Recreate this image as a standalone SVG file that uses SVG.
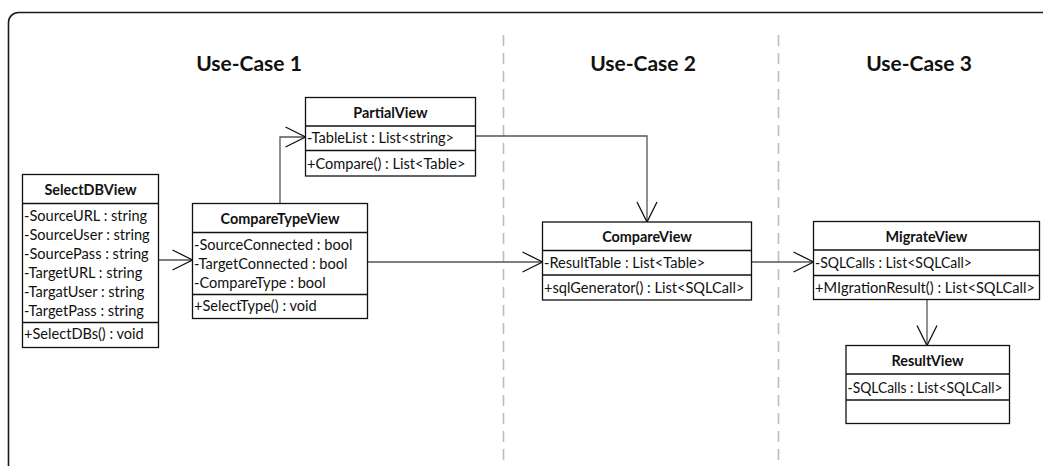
<svg xmlns="http://www.w3.org/2000/svg" width="1043" height="466" viewBox="0 0 1043 466">
  <style>
    .frame { fill: #fff; stroke: #1a1a1a; stroke-width: 1.6; }
    .lane { stroke: #bdbdbd; stroke-width: 1.6; stroke-dasharray: 11 7; fill: none; }
    .title { font-family: Lato, "Open Sans", sans-serif; font-weight: bold; font-size: 21px; fill: #111; text-anchor: middle; }
    .box { fill: #fff; stroke: #111; stroke-width: 1.3; }
    .sep { stroke: #111; stroke-width: 1.3; }
    .name { font-family: Lato, "Open Sans", sans-serif; font-weight: bold; font-size: 14.4px; fill: #111; text-anchor: middle; }
    .mem { font-family: Lato, "Open Sans", sans-serif; font-size: 14.6px; fill: #111; }
    .conn { stroke: #555; stroke-width: 1.3; fill: none; }
    .head { stroke: #111; stroke-width: 1.3; fill: none; }
  </style>
  <defs>
    <marker id="open" markerUnits="userSpaceOnUse" markerWidth="24" markerHeight="24" viewBox="-21 -12 24 24" refX="0" refY="0" orient="auto">
      <path class="head" d="M-20,-10 L0,0 L-20,10"/>
    </marker>
  </defs>

  <!-- outer frame (runs past the right and bottom edges) -->
  <rect class="frame" x="8.5" y="12.5" width="1100" height="500" rx="10" ry="10"/>

  <!-- swim-lane separators -->
  <line class="lane" x1="503.5" y1="35" x2="503.5" y2="466"/>
  <line class="lane" x1="778.5" y1="35" x2="778.5" y2="466"/>

  <text class="title" x="249" y="70.5">Use-Case 1</text>
  <text class="title" x="643" y="70.5">Use-Case 2</text>
  <text class="title" x="919" y="70.5">Use-Case 3</text>

  <!-- associations -->
  <g id="connectors">
    <path class="conn" d="M158.5,260 H192.5" marker-end="url(#open)"/>
    <path class="conn" d="M280,203.5 V137 H305.5" marker-end="url(#open)"/>
    <path class="conn" d="M475.5,136 H647 V222" marker-end="url(#open)"/>
    <path class="conn" d="M367.5,262 H542.5" marker-end="url(#open)"/>
    <path class="conn" d="M751.5,262 H813.5" marker-end="url(#open)"/>
    <path class="conn" d="M927,299.5 V345.5" marker-end="url(#open)"/>
  </g>

  <g id="SelectDBView">
    <rect class="box" x="22.5" y="174.5" width="136" height="173"/>
    <line class="sep" x1="22.5" y1="203.5" x2="158.5" y2="203.5"/>
    <line class="sep" x1="22.5" y1="322.5" x2="158.5" y2="322.5"/>
    <text class="name" x="90.5" y="194.5">SelectDBView</text>
    <text class="mem" x="24" y="220.5">-SourceURL : string</text>
    <text class="mem" x="24" y="239.5">-SourceUser : string</text>
    <text class="mem" x="24" y="258.5">-SourcePass : string</text>
    <text class="mem" x="24" y="277.5">-TargetURL : string</text>
    <text class="mem" x="24" y="296.5">-TargatUser : string</text>
    <text class="mem" x="24" y="315.5">-TargetPass : string</text>
    <text class="mem" x="24" y="339">+SelectDBs() : void</text>
  </g>

  <g id="CompareTypeView">
    <rect class="box" x="192.5" y="203.5" width="175" height="115"/>
    <line class="sep" x1="192.5" y1="232.5" x2="367.5" y2="232.5"/>
    <line class="sep" x1="192.5" y1="294.5" x2="367.5" y2="294.5"/>
    <text class="name" x="280" y="223.5">CompareTypeView</text>
    <text class="mem" x="194" y="250">-SourceConnected : bool</text>
    <text class="mem" x="194" y="268.5">-TargetConnected : bool</text>
    <text class="mem" x="194" y="287.5">-CompareType : bool</text>
    <text class="mem" x="194" y="311">+SelectType() : void</text>
  </g>

  <g id="PartialView">
    <rect class="box" x="305.5" y="97.5" width="170" height="78.5"/>
    <line class="sep" x1="305.5" y1="126" x2="475.5" y2="126"/>
    <line class="sep" x1="305.5" y1="150.5" x2="475.5" y2="150.5"/>
    <text class="name" x="390.5" y="118">PartialView</text>
    <text class="mem" x="307" y="143">-TableList : List&lt;string&gt;</text>
    <text class="mem" x="307" y="169">+Compare() : List&lt;Table&gt;</text>
  </g>

  <g id="CompareView">
    <rect class="box" x="542.5" y="222" width="209" height="78"/>
    <line class="sep" x1="542.5" y1="250.5" x2="751.5" y2="250.5"/>
    <line class="sep" x1="542.5" y1="275" x2="751.5" y2="275"/>
    <text class="name" x="647" y="242">CompareView</text>
    <text class="mem" x="544" y="267.5">-ResultTable : List&lt;Table&gt;</text>
    <text class="mem" x="544" y="293">+sqlGenerator() : List&lt;SQLCall&gt;</text>
  </g>

  <g id="MigrateView">
    <rect class="box" x="813.5" y="221.5" width="226" height="78"/>
    <line class="sep" x1="813.5" y1="250" x2="1039.5" y2="250"/>
    <line class="sep" x1="813.5" y1="275.5" x2="1039.5" y2="275.5"/>
    <text class="name" x="926.5" y="242">MigrateView</text>
    <text class="mem" x="815" y="268" textLength="157" lengthAdjust="spacingAndGlyphs">-SQLCalls : List&lt;SQLCall&gt;</text>
    <text class="mem" x="815" y="293" textLength="220" lengthAdjust="spacingAndGlyphs">+MIgrationResult() : List&lt;SQLCall&gt;</text>
  </g>

  <g id="ResultView">
    <rect class="box" x="846" y="345.5" width="163.5" height="78"/>
    <line class="sep" x1="846" y1="374" x2="1009.5" y2="374"/>
    <line class="sep" x1="846" y1="400" x2="1009.5" y2="400"/>
    <text class="name" x="927.5" y="365.5">ResultView</text>
    <text class="mem" x="847.5" y="392.5" textLength="155" lengthAdjust="spacingAndGlyphs">-SQLCalls : List&lt;SQLCall&gt;</text>
  </g>
</svg>
